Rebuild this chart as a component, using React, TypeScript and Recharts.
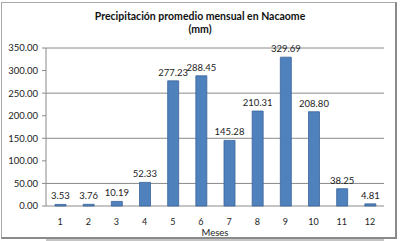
import { Bar, BarChart, CartesianGrid, LabelList, XAxis, YAxis } from "recharts"

const months = ["1", "2", "3", "4", "5", "6", "7", "8", "9", "10", "11", "12"]
const rainfall = [3.53, 3.76, 10.19, 52.33, 277.23, 288.45, 145.28, 210.31, 329.69, 208.8, 38.25, 4.81]
const yTicks = [0, 50, 100, 150, 200, 250, 300, 350]
const edgeTicks = [0, 1, 2, 3, 4, 5, 6, 7, 8, 9, 10, 11, 12]

const data = months.map((m, i) => ({ mes: m, idx: i + 0.5, mm: rainfall[i] }))

const font = "Lato, 'Open Sans', sans-serif"

export default function App() {
  return (
    <div
      style={{
        position: "fixed",
        left: 0,
        top: 0,
        width: 400,
        height: 241,
        background: "#fff",
        fontFamily: font,
      }}
    >
      <div
        style={{
          position: "absolute",
          left: 1,
          top: 2,
          width: 393,
          height: 234,
          borderTop: "1px solid #a8a8a8",
          borderLeft: "1px solid #a8a8a8",
          borderRight: "2px solid #8a8a8a",
          borderBottom: "2px solid #8a8a8a",
        }}
      />
      <div
        style={{
          position: "absolute",
          left: 0,
          top: 10,
          width: 400,
          textAlign: "center",
          fontSize: 10.5,
          fontWeight: 700,
          lineHeight: "13px",
          color: "#111",
        }}
      >
        Precipitación promedio mensual en Nacaome
        <br />
        (mm)
      </div>
      <BarChart
        width={400}
        height={241}
        data={data}
        margin={{ top: 48, right: 16, left: 0, bottom: 0 }}
        style={{ position: "absolute", left: 0, top: 0 }}
      >
        <CartesianGrid horizontal vertical={false} stroke="#8a8a8a" strokeWidth={1} />
        <XAxis
          xAxisId="edges"
          type="number"
          dataKey="idx"
          domain={[0, 12]}
          ticks={edgeTicks}
          tick={false}
          tickSize={4}
          tickLine={{ stroke: "#8a8a8a" }}
          axisLine={{ stroke: "#8a8a8a" }}
          height={1}
        />
        <XAxis
          dataKey="mes"
          xAxisId="cat"
          tickLine={false}
          axisLine={false}
          tick={{ fontSize: 9, fill: "#222", fontFamily: font }}
          tickMargin={7}
          interval={0}
          label={{ value: "Meses", position: "insideBottom", offset: 4, fontSize: 9.5, fill: "#222", fontFamily: font }}
          height={34}
        />
        <YAxis
          domain={[0, 350]}
          ticks={yTicks}
          width={46}
          tickSize={4}
          tickMargin={4}
          tickLine={{ stroke: "#8a8a8a" }}
          axisLine={{ stroke: "#8a8a8a" }}
          tickFormatter={(v: number) => v.toFixed(2)}
          tick={{ fontSize: 9.5, fill: "#222", fontFamily: font }}
        />
        <Bar
          dataKey="mm"
          xAxisId="cat"
          fill="#4f81bd"
          stroke="#3a649a"
          strokeWidth={0.8}
          barSize={11}
          isAnimationActive={false}
        >
          <LabelList
            dataKey="mm"
            position="top"
            offset={5}
            formatter={(v: number) => Number(v).toFixed(2)}
            style={{ fontSize: 9.5, fill: "#222", fontFamily: font }}
          />
        </Bar>
      </BarChart>
    </div>
  )
}
